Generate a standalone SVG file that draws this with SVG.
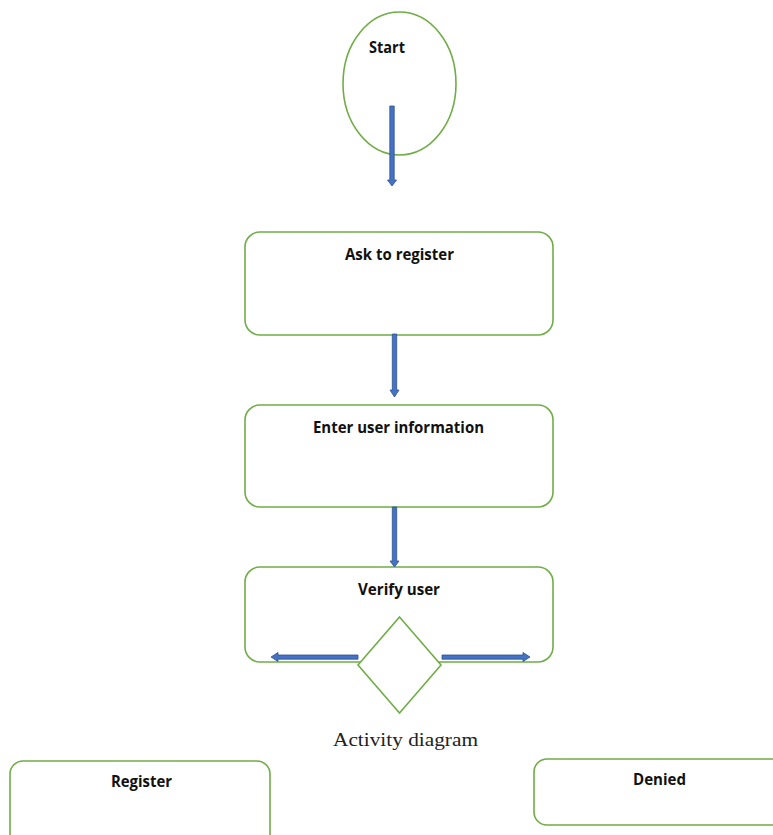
<svg xmlns="http://www.w3.org/2000/svg" width="773" height="835" viewBox="0 0 773 835">
  <style>
    .shape { fill: #ffffff; stroke: #70ad47; stroke-width: 1.6; }
    .flow { fill: #4472c4; stroke: #2f528f; stroke-width: 0.8; stroke-linejoin: miter; }
    .label { font-family: "Open Sans", "Liberation Sans", sans-serif; font-weight: 700; font-size: 16px; fill: #111111; text-anchor: middle; }
    .caption { font-family: "Liberation Serif", serif; font-size: 19px; fill: #222222; text-anchor: middle; }
  </style>
  <rect width="773" height="835" fill="#ffffff"/>

  <g id="start">
    <ellipse class="shape" cx="399.5" cy="83.5" rx="56.5" ry="71.5"/>
    <text class="label" x="387" y="53" textLength="36" lengthAdjust="spacingAndGlyphs">Start</text>
  </g>

  <g id="ask-to-register">
    <rect class="shape" x="245" y="232" width="308" height="103" rx="15"/>
    <text class="label" x="399.5" y="260" textLength="109" lengthAdjust="spacingAndGlyphs">Ask to register</text>
  </g>

  <g id="enter-user-information">
    <rect class="shape" x="245" y="405" width="308" height="102" rx="15"/>
    <text class="label" x="398.5" y="433" textLength="171" lengthAdjust="spacingAndGlyphs">Enter user information</text>
  </g>

  <g id="verify-user">
    <rect class="shape" x="245" y="567" width="308" height="95" rx="15"/>
    <text class="label" x="399" y="595" textLength="82" lengthAdjust="spacingAndGlyphs">Verify user</text>
  </g>

  <g id="decision">
    <polygon class="shape" points="399.5,617 441,665 399.5,713 358,665"/>
  </g>

  <g id="register">
    <rect class="shape" x="10" y="761" width="260" height="90" rx="13"/>
    <text class="label" x="141.5" y="787" textLength="61" lengthAdjust="spacingAndGlyphs">Register</text>
  </g>

  <g id="denied">
    <rect class="shape" x="534" y="759" width="260" height="66" rx="13"/>
    <text class="label" x="659.5" y="785" textLength="53" lengthAdjust="spacingAndGlyphs">Denied</text>
  </g>

  <g id="connectors">
    <!-- start to ask -->
    <polygon class="flow" points="389.8,106 394.2,106 394.2,180 396.5,180 392,186 387.5,180 389.8,180"/>
    <!-- ask to enter -->
    <polygon class="flow" points="392.3,334 396.7,334 396.7,390 399,390 394.5,397 390,390 392.3,390"/>
    <!-- enter to verify -->
    <polygon class="flow" points="392.3,507 396.7,507 396.7,561 399,561 394.5,567 390,561 392.3,561"/>
    <!-- decision to register -->
    <polygon class="flow" points="358,655 358,659.2 278,659.2 278,661.5 271,657 278,652.5 278,655"/>
    <!-- decision to denied -->
    <polygon class="flow" points="442,655 442,659.2 523,659.2 523,661.5 530,657 523,652.5 523,655"/>
  </g>

  <text class="caption" x="405.5" y="746" textLength="145" lengthAdjust="spacingAndGlyphs">Activity diagram</text>
</svg>
